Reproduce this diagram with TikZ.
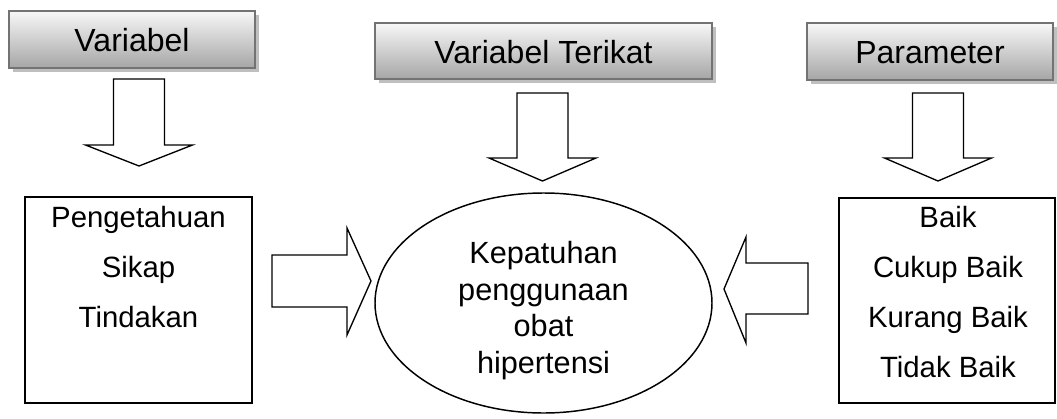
\documentclass[tikz,border=0pt]{standalone}
\usepackage{fontspec}
\setmainfont{Liberation Sans}
\usetikzlibrary{shapes.geometric,shadows}

\tikzset{
	headbox/.style={draw=black!55, line width=1.5pt, top color=black!3, bottom color=black!35,
		drop shadow={shadow xshift=3pt, shadow yshift=-3pt, fill=black!25, opacity=1},
		font=\fontsize{24}{28}\selectfont, inner sep=0pt, text height=18pt, text depth=0pt},
	listbox/.style={draw, line width=1.5pt, inner sep=0pt},
	listtext/.style={font=\fontsize{22}{26}\selectfont, anchor=base, inner sep=0pt},
	centertext/.style={font=\fontsize{23}{27.5}\selectfont, align=center, anchor=north, inner sep=0pt},
	blockarrow/.style={draw, line width=1pt, fill=white, line join=miter},
}

\begin{document}
\begin{tikzpicture}[x=0.75pt,y=-0.75pt]
	\useasboundingbox (0,0) rectangle (1057,418);

	% judul
	\node[headbox, minimum width=184.5pt, minimum height=42.75pt] (var) at (132,39.5) {Variabel};
	\node[headbox, minimum width=252.75pt, minimum height=42pt] (terikat) at (543.5,51) {Variabel Terikat};
	\node[headbox, minimum width=184.5pt, minimum height=42.75pt] (param) at (930,51.5) {Parameter};

	% kotak kiri, kanan dan elips
	\node[listbox, minimum width=170.25pt, minimum height=154.5pt] (faktor) at (138.5,300) {};
	\node[listbox, minimum width=162pt, minimum height=153.75pt] (nilai) at (947,300.5) {};
	\node[draw, ellipse, line width=1.1pt, minimum width=252.75pt, minimum height=165pt, inner sep=0pt] (patuh) at (543.5,303) {};

	\foreach \isi [count=\i] in {Pengetahuan,Sikap,Tindakan}
		\node[listtext] (faktor\i) at (138.5,{177+50*\i}) {\isi};
	\foreach \isi [count=\i] in {Baik,Cukup Baik,Kurang Baik,Tidak Baik}
		\node[listtext] (nilai\i) at (948,{177+50*\i}) {\isi};
	\node[centertext] (patuhteks) at (543.5,241) {Kepatuhan\\penggunaan\\obat\\hipertensi};

	% panah ke bawah
	\foreach \cx/\ya/\yb/\yc in {139/79/145/166, 542.5/93/158/181, 938/93/158/181}
		\draw[blockarrow] (\cx-25.5,\ya) -- (\cx+25.5,\ya) -- (\cx+25.5,\yb) -- (\cx+53.5,\yb)
			-- (\cx,\yc) -- (\cx-53.5,\yb) -- (\cx-25.5,\yb) -- cycle;

	% panah samping
	\draw[blockarrow] (272,255) -- (347,255) -- (347,228) -- (371,281) -- (347,335) -- (347,307) -- (272,307) -- cycle;
	\draw[blockarrow] (808,263) -- (746,263) -- (746,237) -- (724,289) -- (746,343) -- (746,314) -- (808,314) -- cycle;
\end{tikzpicture}
\end{document}
